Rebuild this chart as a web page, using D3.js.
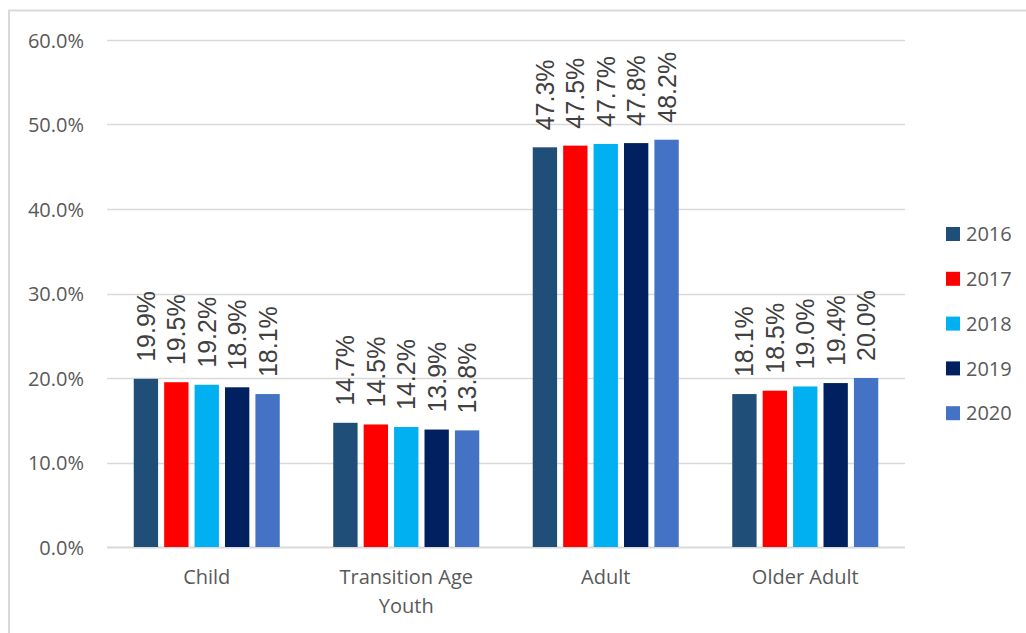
<!DOCTYPE html>
<html>
<head>
<meta charset="utf-8">
<script src="https://cdn.jsdelivr.net/npm/d3@7"></script>
<style>
  html, body { margin: 0; padding: 0; background: #fff; }
  svg { display: block; }
</style>
</head>
<body>
<svg id="chart" width="1026" height="633"></svg>
<script>
// Share of clients by age group, 2016–2020
const categories = ["Child", "Transition Age Youth", "Adult", "Older Adult"];
const years = ["2016", "2017", "2018", "2019", "2020"];
const v2016 = [19.9, 14.7, 47.3, 18.1];
const v2017 = [19.5, 14.5, 47.5, 18.5];
const v2018 = [19.2, 14.2, 47.7, 19.0];
const v2019 = [18.9, 13.9, 47.8, 19.4];
const v2020 = [18.1, 13.8, 48.2, 20.0];
const yTicks = [0, 10, 20, 30, 40, 50, 60];
const colors = ["#1F4E79", "#FF0000", "#00B0F0", "#002060", "#4472C4"];

const seriesValues = [v2016, v2017, v2018, v2019, v2020];
const rows = categories.map((c, i) => ({
  category: c,
  values: years.map((y, k) => ({ year: y, value: seriesValues[k][i] }))
}));

const svg = d3.select("#chart");
const axisFont = "'Open Sans', 'Noto Sans', sans-serif";
const labelFont = "'Liberation Sans', Arial, sans-serif";

// Chart frame (top and left edges)
svg.append("path")
  .attr("d", "M9,640 V10.5 H1030")
  .attr("fill", "none")
  .attr("stroke", "#d9d9d9")
  .attr("stroke-width", 2);

const plot = { left: 107, right: 905, top: 40, bottom: 547 };

const y = d3.scaleLinear().domain([0, 60]).range([plot.bottom, plot.top]);
const x0 = d3.scaleBand().domain(categories).range([plot.left, plot.right]).padding(0);
const groupPad = (x0.bandwidth() - 146) / 2;
const x1 = d3.scaleBand().domain(years)
  .range([groupPad, x0.bandwidth() - groupPad])
  .paddingInner(0.2).paddingOuter(0);
const color = d3.scaleOrdinal().domain(years).range(colors);

// Gridlines
svg.append("g")
  .selectAll("line")
  .data(yTicks)
  .join("line")
  .attr("x1", plot.left)
  .attr("x2", plot.right)
  .attr("y1", d => Math.round(y(d)) + 0.5)
  .attr("y2", d => Math.round(y(d)) + 0.5)
  .attr("stroke", "#d9d9d9")
  .attr("stroke-width", d => d === 0 ? 2 : 1.5);

// Y axis labels
const yAxis = d3.axisLeft(y).tickValues(yTicks).tickSize(0).tickPadding(0)
  .tickFormat(d => d.toFixed(1) + "%");
const gy = svg.append("g").attr("transform", `translate(84,0)`).call(yAxis);
gy.select(".domain").remove();
gy.selectAll("text")
  .attr("font-family", axisFont)
  .attr("font-size", 20)
  .attr("fill", "#595959")
  .attr("dy", "0.35em");

// Bars
const groups = svg.append("g")
  .selectAll("g")
  .data(rows)
  .join("g")
  .attr("transform", d => `translate(${x0(d.category)},0)`);

groups.selectAll("rect")
  .data(d => d.values)
  .join("rect")
  .attr("x", d => x1(d.year))
  .attr("width", x1.bandwidth())
  .attr("y", d => y(d.value))
  .attr("height", d => y(0) - y(d.value))
  .attr("fill", d => color(d.year));

// Value labels, rotated
groups.selectAll("text")
  .data(d => d.values)
  .join("text")
  .attr("transform", d => `translate(${x1(d.year) + x1.bandwidth() / 2 + 9},${y(d.value) - 17}) rotate(-90)`)
  .attr("font-family", labelFont)
  .attr("font-size", 25)
  .attr("fill", "#404040")
  .text(d => d.value.toFixed(1) + "%");

// Category axis labels
const xAxis = svg.append("g");
rows.forEach(r => {
  const cx = x0(r.category) + x0.bandwidth() / 2;
  const lines = r.category === "Transition Age Youth" ? ["Transition Age", "Youth"] : [r.category];
  const t = xAxis.append("text")
    .attr("text-anchor", "middle")
    .attr("font-family", axisFont)
    .attr("font-size", 20)
    .attr("fill", "#595959");
  lines.forEach((ln, i) => {
    t.append("tspan").attr("x", cx).attr("y", 584 + i * 29).text(ln);
  });
});

// Legend
const legend = svg.append("g")
  .selectAll("g")
  .data(years)
  .join("g")
  .attr("transform", (d, i) => `translate(946,${227 + i * 44.8})`);
legend.append("rect")
  .attr("width", 14).attr("height", 14)
  .attr("fill", d => color(d));
legend.append("text")
  .attr("x", 20).attr("y", 7).attr("dy", "0.36em")
  .attr("font-family", axisFont)
  .attr("font-size", 20)
  .attr("fill", "#595959")
  .text(d => d);
</script>
</body>
</html>
